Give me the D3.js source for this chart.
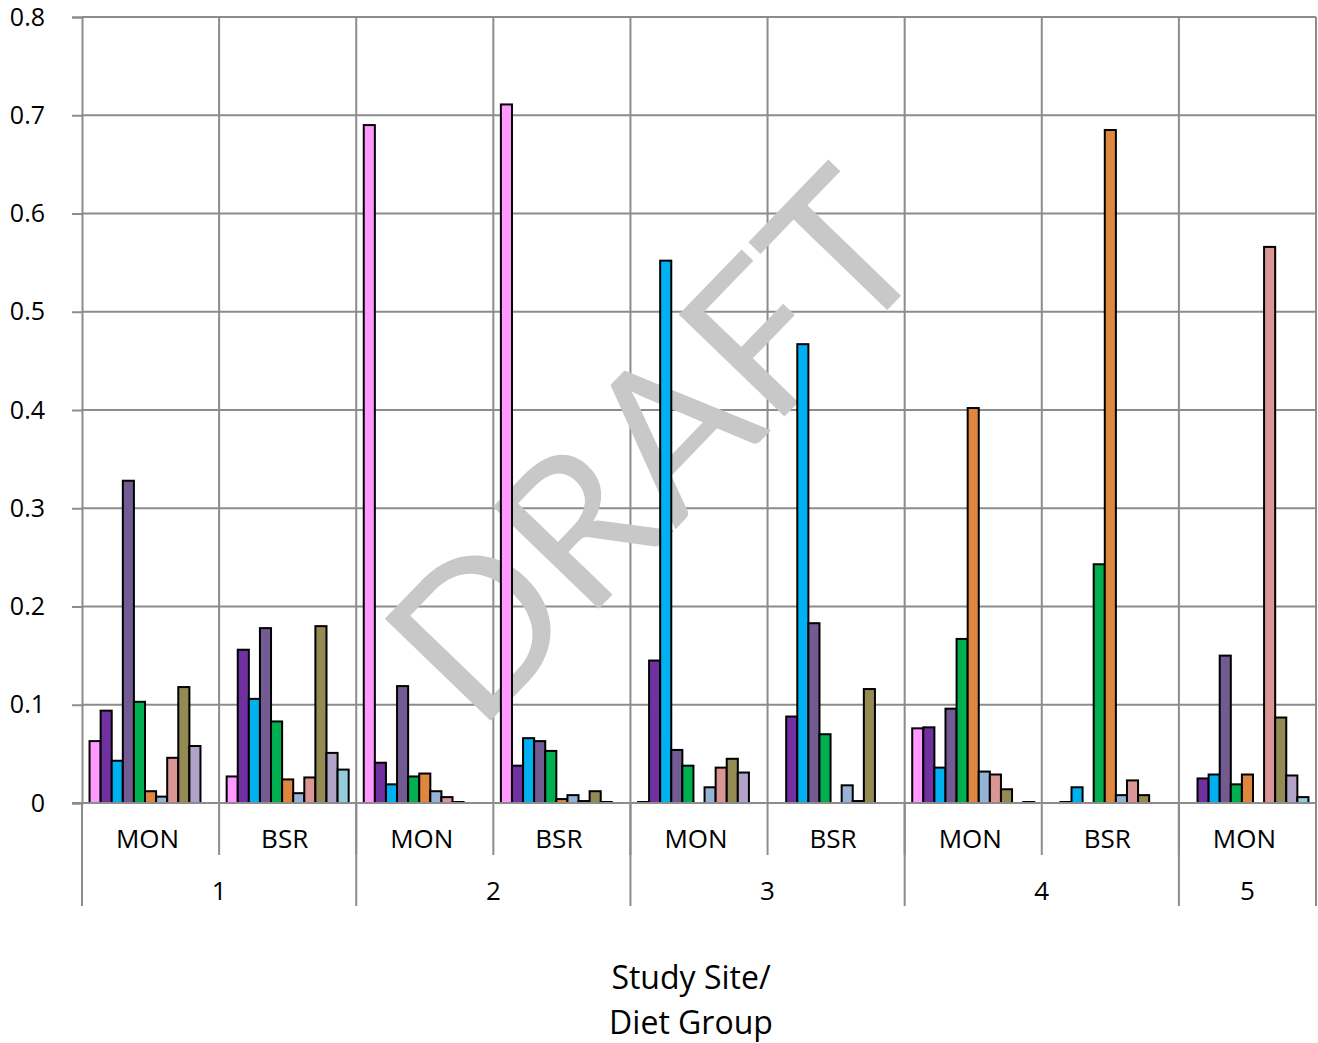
<!DOCTYPE html>
<html>
<head>
<meta charset="utf-8">
<script src="https://cdn.jsdelivr.net/npm/d3@7"></script>
<style>
  html, body { margin: 0; padding: 0; background: #ffffff; }
  svg { display: block; }
</style>
</head>
<body>
<svg id="chart" width="1318" height="1043"></svg>
<script>
// ---------- data ----------
const studySites = ["1", "1", "2", "2", "3", "3", "4", "4", "5"];
const dietGroups = ["MON", "BSR", "MON", "BSR", "MON", "BSR", "MON", "BSR", "MON"];
const seriesNames = ["S1", "S2", "S3", "S4", "S5", "S6", "S7", "S8", "S9", "S10", "S11"];
const s1  = [0.063, 0.027, 0.690, 0.711, 0.001, 0.000, 0.076, 0.000, 0.000];
const s2  = [0.094, 0.156, 0.041, 0.038, 0.145, 0.088, 0.077, 0.001, 0.025];
const s3  = [0.043, 0.106, 0.019, 0.066, 0.552, 0.467, 0.036, 0.016, 0.029];
const s4  = [0.328, 0.178, 0.119, 0.063, 0.054, 0.183, 0.096, 0.000, 0.150];
const s5  = [0.103, 0.083, 0.027, 0.053, 0.038, 0.070, 0.167, 0.243, 0.019];
const s6  = [0.012, 0.024, 0.030, 0.004, 0.000, 0.000, 0.402, 0.685, 0.029];
const s7  = [0.0065, 0.010, 0.012, 0.008, 0.016, 0.018, 0.032, 0.008, 0.000];
const s8  = [0.046, 0.026, 0.006, 0.002, 0.036, 0.002, 0.029, 0.023, 0.566];
const s9  = [0.118, 0.180, 0.001, 0.012, 0.045, 0.116, 0.014, 0.008, 0.087];
const s10 = [0.058, 0.051, 0.000, 0.001, 0.031, 0.000, 0.000, 0.000, 0.028];
const s11 = [0.000, 0.034, 0.000, 0.000, 0.000, 0.000, 0.001, 0.000, 0.006];
const seriesValues = [s1, s2, s3, s4, s5, s6, s7, s8, s9, s10, s11];
const seriesColors = ["#FF99FF", "#7030A0", "#00B0F0", "#725B93", "#00B050", "#E0873F",
                      "#95B3D7", "#D99694", "#948A54", "#B3A2C7", "#93CDDD"];
const yTicks = [0, 0.1, 0.2, 0.3, 0.4, 0.5, 0.6, 0.7, 0.8];
const yTickLabels = ["0", "0.1", "0.2", "0.3", "0.4", "0.5", "0.6", "0.7", "0.8"];
const axisTitleLines = ["Study Site/", "Diet Group"];
const watermark = "DRAFT";

// ---------- layout ----------
const svg = d3.select("#chart");
const plotLeft = 82, plotRight = 1316, plotTop = 17, plotBottom = 803;
const gridColor = "#8c8c8c";
const font = "'Open Sans', 'Noto Sans', sans-serif";

const groupIdx = d3.range(dietGroups.length);
const x0 = d3.scaleBand().domain(groupIdx).range([plotLeft, plotRight]).padding(0);
const x1 = d3.scaleBand().domain(d3.range(seriesNames.length))
  .range([0, x0.bandwidth()]).paddingInner(0).paddingOuter(0.68);
const y = d3.scaleLinear().domain([0, 0.8]).range([plotBottom, plotTop]);

// horizontal gridlines
svg.append("g").selectAll("line").data(yTicks.filter(t => t > 0)).join("line")
  .attr("x1", plotLeft).attr("x2", plotRight)
  .attr("y1", d => y(d)).attr("y2", d => y(d))
  .attr("stroke", gridColor).attr("stroke-width", 2);

// vertical gridlines at group boundaries
const boundaries = groupIdx.map(i => x0(i)).concat([plotRight]);
svg.append("g").selectAll("line").data(boundaries.slice(1)).join("line")
  .attr("x1", d => d).attr("x2", d => d)
  .attr("y1", plotTop).attr("y2", plotBottom)
  .attr("stroke", gridColor).attr("stroke-width", 2);

// watermark (behind bars)
svg.append("text")
  .attr("transform", "translate(650,442) rotate(-46)")
  .attr("text-anchor", "middle")
  .attr("dominant-baseline", "central")
  .attr("font-family", "Lato, 'Liberation Sans', sans-serif")
  .attr("font-weight", 400)
  .attr("font-size", 205)
  .attr("fill", "#c8c8c8")
  .text(watermark);

// y axis
const yAxis = d3.axisLeft(y).tickValues(yTicks)
  .tickFormat((d, i) => yTickLabels[i]).tickSize(10).tickPadding(27);
const ya = svg.append("g").attr("transform", `translate(${plotLeft},0)`).call(yAxis);
ya.select(".domain").attr("stroke", gridColor).attr("stroke-width", 2);
ya.selectAll(".tick line").attr("stroke", gridColor).attr("stroke-width", 2);
ya.selectAll(".tick text").attr("font-family", font).attr("font-size", 25).attr("fill", "#000");

// bars
const groups = svg.append("g").selectAll("g").data(groupIdx).join("g")
  .attr("transform", d => `translate(${x0(d)},0)`);
groups.selectAll("rect")
  .data(g => seriesValues.map((vals, s) => ({ s, v: vals[g] })))
  .join("rect")
  .attr("x", d => x1(d.s))
  .attr("width", x1.bandwidth())
  .attr("y", d => y(d.v))
  .attr("height", d => y(0) - y(d.v))
  .attr("fill", d => seriesColors[d.s])
  .attr("stroke", "#000").attr("stroke-width", 2);

// x axis baseline
svg.append("line").attr("x1", plotLeft - 10).attr("x2", plotRight)
  .attr("y1", plotBottom).attr("y2", plotBottom)
  .attr("stroke", gridColor).attr("stroke-width", 2);

// multi-level category axis
const ax = svg.append("g");
ax.selectAll("line.l1").data(boundaries).join("line").attr("class", "l1")
  .attr("x1", d => d).attr("x2", d => d)
  .attr("y1", plotBottom).attr("y2", 855)
  .attr("stroke", gridColor).attr("stroke-width", 2);
const siteStarts = [];
studySites.forEach((s, i) => { if (i === 0 || studySites[i - 1] !== s) siteStarts.push(i); });
const siteBounds = siteStarts.map(i => x0(i)).concat([plotRight]);
ax.selectAll("line.l2").data(siteBounds).join("line").attr("class", "l2")
  .attr("x1", d => d).attr("x2", d => d)
  .attr("y1", plotBottom).attr("y2", 906)
  .attr("stroke", gridColor).attr("stroke-width", 2);
ax.selectAll("text.diet").data(groupIdx).join("text").attr("class", "diet")
  .attr("x", d => x0(d) + x0.bandwidth() / 2 - 3)
  .attr("y", 838)
  .attr("text-anchor", "middle").attr("dominant-baseline", "central")
  .attr("font-family", font).attr("font-size", 26).attr("fill", "#000")
  .text(d => dietGroups[d]);
ax.selectAll("text.site").data(siteStarts).join("text").attr("class", "site")
  .attr("x", (d, i) => (siteBounds[i] + siteBounds[i + 1]) / 2)
  .attr("y", 890)
  .attr("text-anchor", "middle").attr("dominant-baseline", "central")
  .attr("font-family", font).attr("font-size", 26).attr("fill", "#000")
  .text(d => studySites[d]);

// axis title
svg.append("g").selectAll("text").data(axisTitleLines).join("text")
  .attr("x", 691)
  .attr("y", (d, i) => 976 + i * 45)
  .attr("text-anchor", "middle").attr("dominant-baseline", "central")
  .attr("font-family", font).attr("font-size", 32).attr("fill", "#000")
  .text(d => d);
</script>
</body>
</html>
